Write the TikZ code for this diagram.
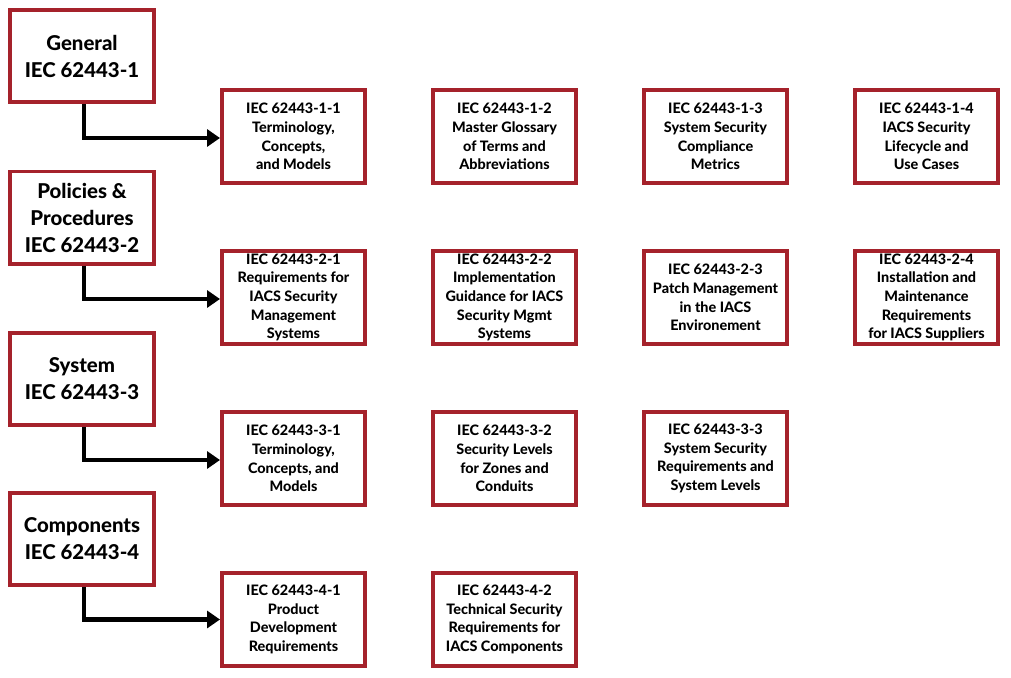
\documentclass[tikz,border=0pt]{standalone}
\usepackage{fontspec}
\setmainfont{Lato}[BoldFont={Lato Heavy}]
\usetikzlibrary{arrows.meta}
\definecolor{boxred}{HTML}{A5222B}
\tikzset{
  mainbox/.style={draw=boxred, line width=3.6pt, fill=white, minimum width=144.4pt, minimum height=92.4pt, inner sep=0pt, align=center, font=\bfseries\fontsize{20.4}{27}\selectfont},
  subbox/.style={draw=boxred, line width=3.6pt, fill=white, minimum width=143.4pt, minimum height=93.4pt, inner sep=0pt, align=center, font=\bfseries\fontsize{14.4}{18.7}\selectfont},
  link/.style={line width=4.5pt, -{Triangle[length=13pt,width=17pt]}}
}
\begin{document}
\begin{tikzpicture}[x=1pt,y=-1pt]
\useasboundingbox (0,0) rectangle (1011,677);
% left boxes
\node[mainbox] (g1) at (82,56) {General\\IEC 62443-1};
\node[mainbox] (g2) at (82,217.5) {Policies \&\\Procedures\\IEC 62443-2};
\node[mainbox] (g3) at (82,379) {System\\IEC 62443-3};
\node[mainbox] (g4) at (82,539) {Components\\IEC 62443-4};
% row 1
\node[subbox] (a1) at (293.5,136.5) {IEC 62443-1-1\\Terminology,\\Concepts,\\and Models};
\node[subbox] (a2) at (504.5,136.5) {IEC 62443-1-2\\Master Glossary\\of Terms and\\Abbreviations};
\node[subbox] (a3) at (715.5,136.5) {IEC 62443-1-3\\System Security\\Compliance\\Metrics};
\node[subbox] (a4) at (926.5,136.5) {IEC 62443-1-4\\IACS Security\\Lifecycle and\\Use Cases};
% row 2
\node[subbox] (b1) at (293.5,297.5) {IEC 62443-2-1\\Requirements for\\IACS Security\\Management\\Systems};
\node[subbox] (b2) at (504.5,297.5) {IEC 62443-2-2\\Implementation\\Guidance for IACS\\Security Mgmt\\Systems};
\node[subbox] (b3) at (715.5,297.5) {IEC 62443-2-3\\Patch Management\\in the IACS\\Environement};
\node[subbox] (b4) at (926.5,297.5) {IEC 62443-2-4\\Installation and\\Maintenance\\Requirements\\for IACS Suppliers};
% row 3
\node[subbox] (c1) at (293.5,458.5) {IEC 62443-3-1\\Terminology,\\Concepts, and\\Models};
\node[subbox] (c2) at (504.5,458.5) {IEC 62443-3-2\\Security Levels\\for Zones and\\Conduits};
\node[subbox] (c3) at (715.5,458.5) {IEC 62443-3-3\\System Security\\Requirements and\\System Levels};
% row 4
\node[subbox] (d1) at (293.5,619.5) {IEC 62443-4-1\\Product\\Development\\Requirements};
\node[subbox] (d2) at (504.5,619.5) {IEC 62443-4-2\\Technical Security\\Requirements for\\IACS Components};
% connectors
\draw[link] ([xshift=2pt]g1.south) |- ([yshift=-1.5pt]a1.west);
\draw[link] ([xshift=2pt]g2.south) |- ([yshift=-1.5pt]b1.west);
\draw[link] ([xshift=2pt]g3.south) |- ([yshift=-1.5pt]c1.west);
\draw[link] ([xshift=2pt]g4.south) |- (d1.west);
\end{tikzpicture}
\end{document}
